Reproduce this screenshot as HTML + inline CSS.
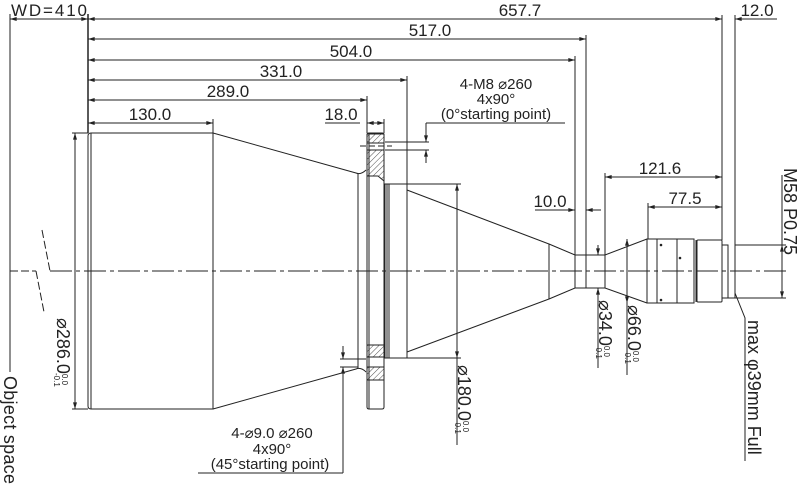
<!DOCTYPE html>
<html><head><meta charset="utf-8"><style>
html,body{margin:0;padding:0;background:#fff;}
svg{display:block;}
text{font-family:"Liberation Sans","DejaVu Sans",sans-serif;fill:#222;}
</style></head><body>
<svg width="800" height="487" viewBox="0 0 800 487" xmlns="http://www.w3.org/2000/svg">
<defs>
<marker id="a" viewBox="0 0 10 6" refX="10" refY="3" markerWidth="7" markerHeight="4" orient="auto-start-reverse"><path d="M0,0 L10,3 L0,6z" fill="#222"/></marker>
<pattern id="h" width="4" height="4" patternUnits="userSpaceOnUse" patternTransform="rotate(45)"><line x1="0" y1="0" x2="0" y2="4" stroke="#222" stroke-width="0.8"/></pattern>
</defs>
<g stroke="#222" stroke-width="1" fill="none">
<line x1="10" y1="271" x2="36" y2="271" stroke-dasharray="8 3"/>
<line x1="50" y1="271" x2="790" y2="271" stroke-dasharray="22 4 4 4"/>
<polyline points="42,230 50,271" stroke-dasharray="8 3"/>
<polyline points="36,271 44,312" stroke-dasharray="8 3"/>
<line x1="10" y1="14" x2="10" y2="372"/>
<line x1="88" y1="14" x2="88" y2="133" stroke-width="1.5"/>
<path d="M91,133 L213,133 L213,409 L91,409 Q88,409 88,406 L88,136 Q88,133 91,133z"/>
<line x1="91" y1="133" x2="91" y2="409"/>
<path d="M213,133 L356,173 Q361,175 366,170"/>
<path d="M213,409 L356,369 Q361,367 366,372"/>
<line x1="358" y1="174" x2="358" y2="368"/>
<path d="M367,135 Q367,133 369,133 L382,133 Q384,133 384,135 L384,407 Q384,409 382,409 L369,409 Q367,409 367,407z"/>
<line x1="369" y1="133" x2="369" y2="409"/>
<rect x="367" y="134" width="17" height="9" fill="url(#h)"/>
<path d="M367,150 L384,150 L384,181 L378,176 L367,176z" fill="url(#h)"/>
<rect x="367" y="345" width="17" height="12" fill="url(#h)"/>
<rect x="367" y="367" width="17" height="13" fill="url(#h)"/>
<line x1="360" y1="146" x2="392" y2="146" stroke-dasharray="6 3"/>
<line x1="367" y1="143" x2="384" y2="143"/><line x1="367" y1="150" x2="384" y2="150"/>
<line x1="367" y1="357" x2="384" y2="357"/><line x1="367" y1="367" x2="384" y2="367"/>
<rect x="385" y="184" width="22" height="174"/>
<line x1="387" y1="184" x2="387" y2="358"/><line x1="389" y1="184" x2="389" y2="358"/>
<path d="M407,190 L549,244 L549,299 L407,352"/>
<path d="M549,244 L575,255 L605,255 L647,239 M549,299 L575,288 L605,288 L647,303"/>
<line x1="575" y1="255" x2="575" y2="288"/><line x1="586" y1="255" x2="586" y2="288"/><line x1="605" y1="255" x2="605" y2="288"/>
<rect x="647" y="239" width="47" height="64"/>
<line x1="657" y1="239" x2="657" y2="303"/><line x1="677" y1="239" x2="677" y2="303"/>
<line x1="696" y1="240" x2="696" y2="302"/>
<rect x="697" y="240" width="25" height="62" rx="1"/>
<rect x="722" y="245" width="6" height="53"/>
<line x1="735" y1="245" x2="735" y2="298"/>
<circle cx="661" cy="245" r="0.8" fill="#222"/><circle cx="680" cy="258" r="0.8" fill="#222"/><circle cx="661" cy="300" r="0.8" fill="#222"/>
<line x1="10" y1="19" x2="88" y2="19" marker-start="url(#a)" marker-end="url(#a)"/>
<line x1="88" y1="19" x2="722" y2="19" marker-start="url(#a)" marker-end="url(#a)"/>
<line x1="722" y1="15" x2="722" y2="240"/>
<line x1="735" y1="15" x2="735" y2="245"/>
<line x1="735" y1="19" x2="777" y2="19" marker-start="url(#a)"/>
<line x1="88" y1="39" x2="586" y2="39" marker-start="url(#a)" marker-end="url(#a)"/>
<line x1="586" y1="35" x2="586" y2="255"/>
<line x1="88" y1="60" x2="575" y2="60" marker-start="url(#a)" marker-end="url(#a)"/>
<line x1="575" y1="56" x2="575" y2="255"/>
<line x1="88" y1="80" x2="407" y2="80" marker-start="url(#a)" marker-end="url(#a)"/>
<line x1="407" y1="76" x2="407" y2="184"/>
<line x1="88" y1="100" x2="367" y2="100" marker-start="url(#a)" marker-end="url(#a)"/>
<line x1="367" y1="96" x2="367" y2="133"/>
<line x1="88" y1="123" x2="213" y2="123" marker-start="url(#a)" marker-end="url(#a)"/>
<line x1="213" y1="119" x2="213" y2="133"/>
<line x1="325" y1="123" x2="360" y2="123"/>
<line x1="367" y1="123" x2="384" y2="123" marker-start="url(#a)" marker-end="url(#a)"/>
<line x1="384" y1="119" x2="384" y2="133"/>
<line x1="426" y1="123" x2="565" y2="123"/>
<line x1="426" y1="123" x2="426" y2="142" marker-end="url(#a)"/>
<line x1="426" y1="163" x2="426" y2="150" marker-end="url(#a)"/>
<line x1="385" y1="142" x2="429" y2="142"/><line x1="385" y1="150" x2="429" y2="150"/>
<line x1="605" y1="177" x2="722" y2="177" marker-start="url(#a)" marker-end="url(#a)"/>
<line x1="605" y1="173" x2="605" y2="255"/>
<line x1="648" y1="207" x2="722" y2="207" marker-start="url(#a)" marker-end="url(#a)"/>
<line x1="648" y1="203" x2="648" y2="239"/>
<line x1="535" y1="210" x2="575" y2="210" marker-end="url(#a)"/>
<line x1="601" y1="210" x2="586" y2="210" marker-end="url(#a)"/>
<line x1="75" y1="133" x2="75" y2="409" marker-start="url(#a)" marker-end="url(#a)"/>
<line x1="72" y1="133" x2="88" y2="133"/><line x1="72" y1="409" x2="88" y2="409"/>
<line x1="457" y1="184" x2="457" y2="358" marker-start="url(#a)" marker-end="url(#a)"/>
<line x1="407" y1="184" x2="461" y2="184"/><line x1="407" y1="358" x2="461" y2="358"/>
<line x1="457" y1="358" x2="457" y2="445"/>
<line x1="598" y1="245" x2="598" y2="255" marker-end="url(#a)"/>
<line x1="598" y1="298" x2="598" y2="288" marker-end="url(#a)"/>
<line x1="598" y1="298" x2="598" y2="368"/>
<line x1="627" y1="239" x2="627" y2="303" marker-start="url(#a)" marker-end="url(#a)"/>
<line x1="627" y1="303" x2="627" y2="375"/>
<line x1="735" y1="245" x2="786" y2="245"/><line x1="728" y1="298" x2="786" y2="298"/>
<line x1="782" y1="245" x2="782" y2="298" marker-start="url(#a)" marker-end="url(#a)"/>
<line x1="782" y1="175" x2="782" y2="245"/>
<polyline points="735,293 745,318 745,461"/>
<line x1="198" y1="473" x2="343" y2="473"/>
<line x1="343" y1="473" x2="343" y2="367" marker-end="url(#a)"/>
<line x1="343" y1="346" x2="343" y2="359" marker-end="url(#a)"/>
<line x1="340" y1="359" x2="366" y2="359"/><line x1="340" y1="367" x2="358" y2="367"/>
</g>
<g font-size="17">
<text x="11" y="16" textLength="76">WD=410</text>
<text x="520" y="16" text-anchor="middle">657.7</text>
<text x="757" y="16" text-anchor="middle">12.0</text>
<text x="430" y="36" text-anchor="middle">517.0</text>
<text x="351" y="57" text-anchor="middle">504.0</text>
<text x="281" y="77" text-anchor="middle">331.0</text>
<text x="228" y="97" text-anchor="middle">289.0</text>
<text x="150" y="120" text-anchor="middle">130.0</text>
<text x="341" y="120" text-anchor="middle">18.0</text>
<text x="660" y="174" text-anchor="middle">121.6</text>
<text x="685" y="204" text-anchor="middle">77.5</text>
<text x="550" y="207" text-anchor="middle">10.0</text>
</g>
<g font-size="15">
<text x="496" y="89" text-anchor="middle">4-M8 ⌀260</text>
<text x="496" y="104" text-anchor="middle">4x90°</text>
<text x="496" y="119" text-anchor="middle">(0°starting point)</text>
<text x="272" y="438" text-anchor="middle">4-⌀9.0  ⌀260</text>
<text x="272" y="454" text-anchor="middle">4x90°</text>
<text x="270" y="469" text-anchor="middle">(45°starting point)</text>
</g>
<g font-size="18">
<text transform="translate(4,376) rotate(90)" textLength="108">Object space</text>
<text transform="translate(57,318) rotate(90)">⌀286.0<tspan font-size="8" dy="-5">0.0</tspan><tspan font-size="8" dx="-12" dy="8">-0.1</tspan></text>
<text transform="translate(458,365) rotate(90)">⌀180.0<tspan font-size="8" dy="-5">0.0</tspan><tspan font-size="8" dx="-12" dy="8">-0.1</tspan></text>
<text transform="translate(599,300) rotate(90)">⌀34.0<tspan font-size="8" dy="-5">0.0</tspan><tspan font-size="8" dx="-12" dy="8">-0.1</tspan></text>
<text transform="translate(628,305) rotate(90)">⌀66.0<tspan font-size="8" dy="-5">0.0</tspan><tspan font-size="8" dx="-12" dy="8">-0.1</tspan></text>
<text transform="translate(784,168) rotate(90)">M58 P0.75</text>
<text transform="translate(748,320) rotate(90)">max φ39mm Full</text>
</g>
</svg>
</body></html>
